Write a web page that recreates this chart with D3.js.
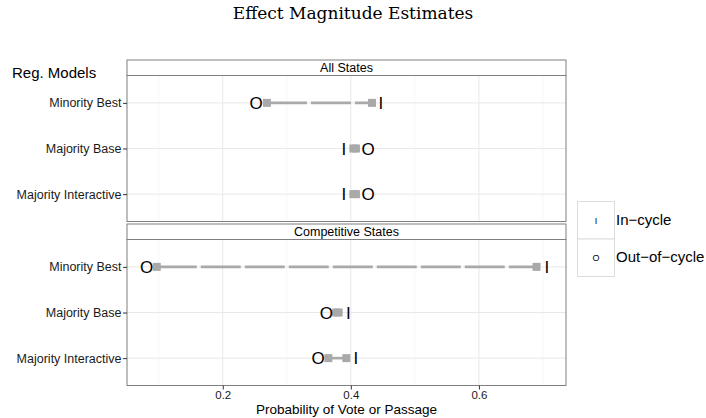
<!DOCTYPE html>
<html>
<head>
<meta charset="utf-8">
<script src="https://cdn.jsdelivr.net/npm/d3@7"></script>
<style>
  body { margin: 0; background: #fff; }
  text { font-family: "Liberation Sans", Arial, sans-serif; }
</style>
</head>
<body>
<div id="chart"></div>
<script>
// data
var panels = ["All States", "Competitive States"];
var models = ["Minority Best", "Majority Base", "Majority Interactive"];
var inCycle = [[0.447, 0.389, 0.389], [0.706, 0.396, 0.408]];
var outCycle = [[0.252, 0.427, 0.427], [0.081, 0.362, 0.349]];
var sqLow = [[0.269, 0.404, 0.404], [0.097, 0.377, 0.365]];
var sqHigh = [[0.433, 0.408, 0.408], [0.690, 0.381, 0.393]];
var xMajor = [0.2, 0.4, 0.6];
var xMinor = [0.1, 0.3, 0.5, 0.7];
var legendKeys = [{shape: "I", label: "In\u2212cycle"}, {shape: "O", label: "Out\u2212of\u2212cycle"}];

var width = 706, height = 418;
var svg = d3.select("#chart").append("svg")
  .attr("width", width).attr("height", height);

var left = 127, right = 566;
var panelTops = [75.5, 239.5], panelH = 146, stripH = 15.5;

var x = d3.scaleLinear().domain([0.0505, 0.736]).range([left, right]);

// title
svg.append("text")
  .attr("x", 353).attr("y", 19)
  .attr("text-anchor", "middle")
  .style("font-family", "'DejaVu Serif', 'Liberation Serif', serif")
  .style("font-size", "17px")
  .text("Effect Magnitude Estimates");

svg.append("text")
  .attr("x", 12).attr("y", 78)
  .style("font-size", "15px")
  .text("Reg. Models");

panels.forEach(function(p, pi) {
  var top = panelTops[pi];
  var y = d3.scalePoint().domain(models).range([top, top + panelH]).padding(0.6);
  var g = svg.append("g");

  // strip
  g.append("rect")
    .attr("x", left).attr("y", top - stripH)
    .attr("width", right - left).attr("height", stripH)
    .attr("fill", "#fff").attr("stroke", "#7f7f7f").attr("stroke-width", 1);
  g.append("text")
    .attr("x", (left + right) / 2).attr("y", top - 3.5)
    .attr("text-anchor", "middle")
    .style("font-size", "12.5px")
    .text(p);

  // grid
  g.selectAll(".minor").data(xMinor).enter().append("line")
    .attr("x1", d => x(d)).attr("x2", d => x(d))
    .attr("y1", top).attr("y2", top + panelH)
    .attr("stroke", "#f2f2f2").attr("stroke-width", 0.6);
  g.selectAll(".major").data(xMajor).enter().append("line")
    .attr("x1", d => x(d)).attr("x2", d => x(d))
    .attr("y1", top).attr("y2", top + panelH)
    .attr("stroke", "#e8e8e8").attr("stroke-width", 1);
  g.selectAll(".hgrid").data(models).enter().append("line")
    .attr("x1", left).attr("x2", right)
    .attr("y1", d => y(d)).attr("y2", d => y(d))
    .attr("stroke", "#e8e8e8").attr("stroke-width", 1);

  // dashed segment between squares
  g.selectAll(".seg").data(models).enter().append("line")
    .attr("x1", (d, i) => x(sqLow[pi][i])).attr("x2", (d, i) => x(sqHigh[pi][i]))
    .attr("y1", d => y(d)).attr("y2", d => y(d))
    .attr("stroke", "#a9a9a9").attr("stroke-width", 2.6)
    .attr("stroke-dasharray", "40,4");

  // squares
  [sqLow, sqHigh].forEach(function(arr) {
    g.selectAll(null).data(models).enter().append("rect")
      .attr("x", (d, i) => x(arr[pi][i]) - 4).attr("y", d => y(d) - 4)
      .attr("width", 8).attr("height", 8)
      .attr("fill", "#a9a9a9");
  });

  // I and O shapes
  [[inCycle, "I"], [outCycle, "O"]].forEach(function(s) {
    g.selectAll(null).data(models).enter().append("text")
      .attr("x", (d, i) => x(s[0][pi][i])).attr("y", d => y(d) + 6)
      .attr("text-anchor", "middle")
      .style("font-size", "17px")
      .attr("fill", "#000")
      .text(s[1]);
  });

  // panel border
  g.append("rect")
    .attr("x", left).attr("y", top)
    .attr("width", right - left).attr("height", panelH)
    .attr("fill", "none").attr("stroke", "#7f7f7f").attr("stroke-width", 1);

  // y axis
  var ya = g.append("g").attr("transform", "translate(" + left + ",0)")
    .call(d3.axisLeft(y).tickSizeOuter(0).tickSize(4).tickPadding(1.5));
  ya.select(".domain").remove();
  ya.selectAll("line").attr("stroke", "#333");
  ya.selectAll("text").style("font-size", "12.5px").attr("fill", "#1a1a1a")
    .style("font-family", "'Liberation Sans', Arial, sans-serif");

  if (pi === 1) {
    var xa = g.append("g").attr("transform", "translate(0," + (top + panelH) + ")")
      .call(d3.axisBottom(x).tickValues(xMajor).tickSize(4).tickPadding(1.5).tickFormat(d3.format(".1f")));
    xa.select(".domain").remove();
    xa.selectAll("line").attr("stroke", "#333");
    xa.selectAll("text").style("font-size", "11.5px").attr("fill", "#1a1a1a")
      .style("font-family", "'Liberation Sans', Arial, sans-serif");
  }
});

svg.append("text")
  .attr("x", (left + right) / 2).attr("y", 414)
  .attr("text-anchor", "middle")
  .style("font-size", "13.5px")
  .text("Probability of Vote or Passage");

// legend
var lg = svg.append("g");
legendKeys.forEach(function(k, i) {
  var ky = 201.5 + i * 37.5;
  lg.append("rect")
    .attr("x", 577.5).attr("y", ky)
    .attr("width", 37).attr("height", 37.5)
    .attr("fill", "#fff").attr("stroke", "#dcdcdc").attr("stroke-width", 1);
  lg.append("text")
    .attr("x", 596).attr("y", ky + 22)
    .attr("text-anchor", "middle")
    .attr("fill", "#000")
    .style("font-size", "9px")
    .text(k.shape);
  lg.append("text")
    .attr("x", 616).attr("y", ky + 23)
    .style("font-size", "15px")
    .text(k.label);
});
</script>
</body>
</html>
